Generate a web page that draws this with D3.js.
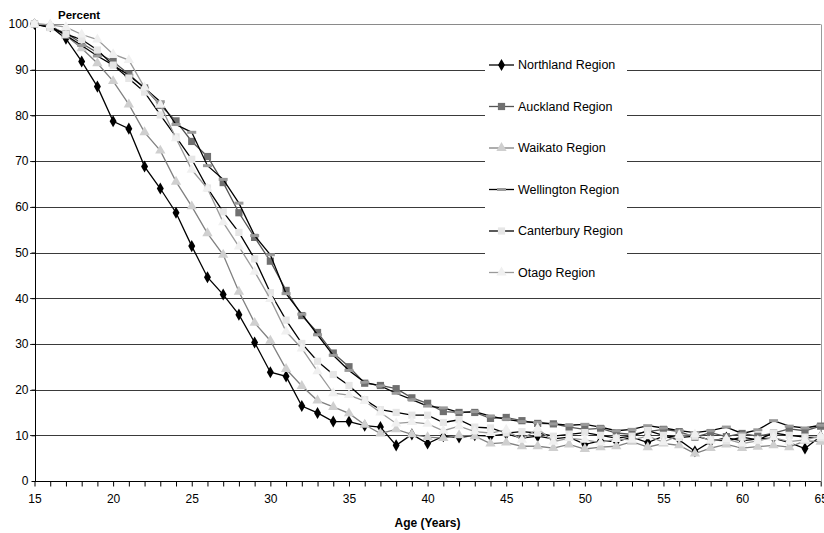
<!DOCTYPE html>
<html>
<head>
<meta charset="utf-8">
<script src="https://cdn.jsdelivr.net/npm/d3@7"></script>
<style>
  html, body { margin: 0; padding: 0; background: #fff; }
  svg { display: block; font-family: "Liberation Sans", Arial, sans-serif; }
</style>
</head>
<body>
<svg id="chart" width="824" height="533"></svg>
<script>
const ages = d3.range(15, 66);
const yTicks = [0, 10, 20, 30, 40, 50, 60, 70, 80, 90, 100];
const xTickLabels = [15, 20, 25, 30, 35, 40, 45, 50, 55, 60, 65];
const seriesNames = ["Northland Region", "Auckland Region", "Waikato Region", "Wellington Region", "Canterbury Region", "Otago Region"];

const northland = [100, 99.5, 96.8, 91.8, 86.3, 78.7, 77.1, 68.8, 64.0, 58.7, 51.4, 44.6, 40.8, 36.4, 30.3, 23.8, 22.9, 16.4, 14.9, 13.0, 13.0, 12.1, 11.8, 7.8, 10.2, 8.2, 9.8, 9.5, 10.0, 9.8, 10.3, 9.4, 9.8, 9.2, 9.6, 8.0, 8.8, 8.6, 9.6, 8.4, 9.8, 9.0, 6.5, 8.6, 9.5, 8.8, 9.2, 9.4, 8.4, 7.1, 9.8];
const auckland = [100, 99.3, 98.0, 95.8, 93.7, 91.8, 89.0, 86.0, 82.2, 78.8, 74.3, 71.0, 65.3, 58.7, 53.3, 48.1, 41.7, 36.2, 32.5, 28.0, 25.0, 21.4, 20.9, 20.2, 18.2, 17.0, 15.2, 15.0, 15.0, 13.7, 13.9, 13.2, 12.6, 12.5, 11.8, 11.3, 11.5, 10.5, 10.2, 10.8, 11.3, 10.8, 9.6, 10.6, 9.7, 10.4, 9.8, 10.5, 11.4, 11.0, 12.0];
const waikato = [100, 99.8, 97.5, 94.7, 91.4, 87.5, 82.4, 76.3, 72.3, 65.5, 60.1, 54.2, 49.5, 41.4, 34.6, 30.7, 24.5, 20.8, 17.6, 16.2, 14.8, 12.3, 10.4, 11.3, 10.2, 9.6, 9.4, 10.0, 9.8, 8.2, 8.4, 7.6, 7.6, 7.2, 8.0, 7.0, 7.4, 7.6, 8.6, 7.4, 8.2, 7.8, 6.0, 7.2, 8.0, 7.2, 7.5, 7.8, 7.4, 8.8, 8.6];
const wellington = [100, 99.5, 97.5, 95.3, 93.0, 91.0, 88.8, 86.0, 83.0, 78.0, 76.3, 69.0, 66.0, 60.8, 53.7, 49.5, 41.0, 36.5, 32.0, 27.5, 24.2, 21.6, 20.8, 19.2, 17.8, 16.4, 16.0, 15.0, 15.2, 14.2, 13.5, 13.0, 12.8, 12.5, 12.2, 12.4, 11.8, 11.0, 11.3, 12.1, 11.6, 11.0, 10.6, 11.0, 11.8, 10.4, 11.2, 13.2, 12.0, 11.6, 12.2];
const canterbury = [100, 99.2, 97.8, 96.6, 94.3, 91.0, 88.1, 85.1, 80.1, 75.3, 70.4, 64.1, 58.9, 54.4, 48.6, 41.2, 35.2, 30.1, 26.2, 23.3, 20.9, 17.8, 15.6, 15.0, 14.4, 14.4, 12.8, 13.4, 11.8, 11.6, 10.5, 10.8, 10.5, 9.8, 10.2, 10.6, 10.0, 9.4, 9.8, 11.0, 10.0, 9.5, 9.8, 9.0, 8.8, 9.6, 9.0, 10.5, 10.0, 9.6, 9.5];
const otago = [100, 99.8, 99.3, 97.7, 96.6, 93.4, 92.1, 86.1, 82.3, 75.0, 68.1, 64.0, 56.6, 51.3, 45.8, 39.8, 32.7, 29.0, 24.0, 19.2, 18.8, 17.5, 15.0, 12.6, 12.9, 12.5, 11.0, 12.0, 10.8, 10.5, 11.2, 9.0, 11.5, 8.6, 9.4, 9.0, 8.4, 9.2, 9.0, 9.8, 8.5, 10.0, 10.2, 8.8, 9.2, 8.2, 8.8, 9.5, 8.6, 9.0, 9.8];

const seriesValues = [northland, auckland, waikato, wellington, canterbury, otago];
const lineColors = ["#000000", "#555555", "#808080", "#000000", "#000000", "#9a9a9a"];
const markerTypes = ["diamond", "square", "triangle", "dash", "square", "triangle"];
const markerFills = ["#000000", "#707070", "#cfcfcf", "#9a9a9a", "#e6e6e6", "#f0f0f0"];

const svg = d3.select("#chart");
const x = d3.scaleLinear().domain([15, 65]).range([34.5, 820.7]);
const y = d3.scaleLinear().domain([0, 100]).range([481, 24]);

// gridlines
svg.append("g").selectAll("line")
  .data(yTicks.filter(d => d > 0))
  .join("line")
  .attr("x1", 30).attr("x2", x(65))
  .attr("y1", d => Math.round(y(d)) + 0.5).attr("y2", d => Math.round(y(d)) + 0.5)
  .attr("stroke", d => d === 100 ? "#8a8a8a" : "#3a3a3a")
  .attr("stroke-width", 1);

// right border
svg.append("line")
  .attr("x1", Math.round(x(65)) + 0.5).attr("x2", Math.round(x(65)) + 0.5)
  .attr("y1", Math.round(y(100)) + 0.5).attr("y2", Math.round(y(0)) + 0.5)
  .attr("stroke", "#9a9a9a");

// x axis
const xAxis = d3.axisBottom(x).tickValues(ages).tickSize(5)
  .tickFormat(d => xTickLabels.includes(d) ? d : "");
const gx = svg.append("g").attr("transform", `translate(0,${Math.round(y(0)) + 0.5})`).call(xAxis);
gx.select(".domain").attr("stroke", "#000").attr("d", `M${x(15)},0H${x(65)}`);
gx.selectAll(".tick line").attr("stroke", "#000");
gx.selectAll(".tick text").attr("font-size", 12).attr("fill", "#000").attr("dy", "1.15em");

// y axis
const yAxis = d3.axisLeft(y).tickValues(yTicks).tickSize(4).tickPadding(3);
const gy = svg.append("g").attr("transform", `translate(${Math.round(x(15)) + 0.5},0)`).call(yAxis);
gy.select(".domain").attr("stroke", "#000").attr("d", `M0,${y(100)}V${y(0)}`);
gy.selectAll(".tick line").attr("stroke", "#000");
gy.selectAll(".tick text").attr("font-size", 12).attr("fill", "#000");

const line = d3.line().x((d, i) => x(ages[i])).y(d => y(d));

function drawMarker(sel, type, fill) {
  if (type === "dash") {
    sel.append("rect").attr("x", -4.5).attr("y", -1.5).attr("width", 9).attr("height", 3).attr("fill", fill);
  } else {
    const sym = type === "diamond" ? d3.symbolDiamond : type === "square" ? d3.symbolSquare : d3.symbolTriangle;
    const size = type === "diamond" ? 42 : type === "square" ? 52 : 46;
    sel.append("path").attr("d", d3.symbol(sym, size)()).attr("fill", fill);
  }
}

seriesValues.forEach((vals, s) => {
  const g = svg.append("g");
  g.append("path").datum(vals).attr("d", line)
    .attr("fill", "none").attr("stroke", lineColors[s]).attr("stroke-width", 1.3);
  g.selectAll("g.m").data(vals).join("g").attr("class", "m")
    .attr("transform", (d, i) => `translate(${x(ages[i])},${y(d)})`)
    .each(function () { drawMarker(d3.select(this), markerTypes[s], markerFills[s]); });
});

// legend
const legend = svg.append("g");
legend.append("rect").attr("x", 485).attr("y", 46).attr("width", 142).attr("height", 245).attr("fill", "#fff");
seriesNames.forEach((name, s) => {
  const ly = 65 + s * 41.5;
  const row = legend.append("g").attr("transform", `translate(0,${ly})`);
  row.append("line").attr("x1", 489).attr("x2", 514).attr("y1", 0).attr("y2", 0)
    .attr("stroke", lineColors[s]).attr("stroke-width", 1.3);
  drawMarker(row.append("g").attr("transform", "translate(501.5,0)"), markerTypes[s], markerFills[s]);
  row.append("text").attr("x", 518).attr("y", 0).attr("dy", "0.35em")
    .attr("font-size", 12.5).attr("fill", "#000").text(name);
});

// titles
svg.append("text").attr("x", 58).attr("y", 19).attr("font-size", 11.5).attr("font-weight", "bold").text("Percent");
svg.append("text").attr("x", 427.5).attr("y", 527).attr("text-anchor", "middle")
  .attr("font-size", 12).attr("font-weight", "bold").text("Age (Years)");
</script>
</body>
</html>
